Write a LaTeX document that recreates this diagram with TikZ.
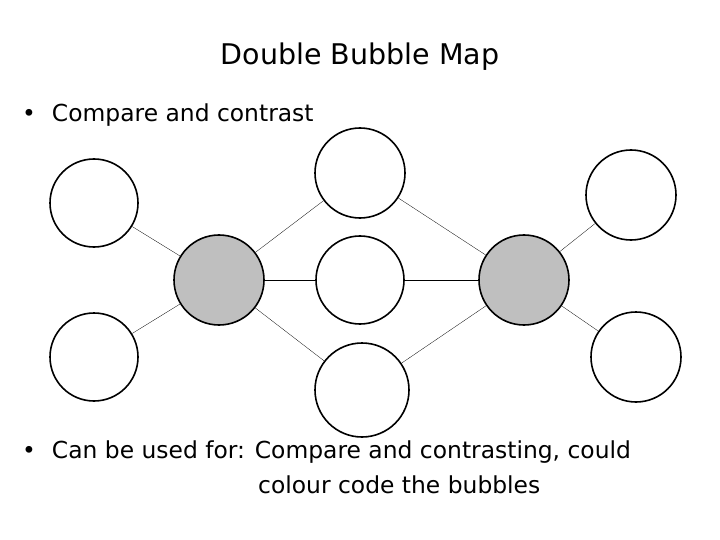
\documentclass[tikz,border=0pt]{standalone}
\usepackage{fontspec}
\setmainfont{DejaVu Sans}
\begin{document}
\begin{tikzpicture}[x=1pt,y=-1pt,
  wb/.style={circle,draw,line width=1.6pt,fill=white,minimum size=88pt,inner sep=0},
  gb/.style={circle,draw,line width=1.6pt,fill=black!25,minimum size=90pt,inner sep=0},
  ln/.style={draw,line width=0.3pt},
  txt/.style={anchor=west,inner sep=0,font=\fontsize{23.4}{28}\selectfont}]
\useasboundingbox (0,0) rectangle (720,540);
\node[font=\fontsize{28.5}{32}\selectfont] (t) at (360,57) {Double Bubble Map};
\node[txt] (b1) at (22,115) {•\hspace{16pt}Compare and contrast};
\node[txt] (b2) at (22,452) {•\hspace{16pt}Can be used for: Compare and contrasting, could};
\node[txt] (b3) at (258,485) {colour code the bubbles};
\node[wb] (l1) at (94,203) {};
\node[wb] (l2) at (94,357) {};
\node[gb] (g1) at (219,280) {};
\node[wb,minimum size=90pt] (m1) at (360,173) {};
\node[wb] (m2) at (360,280) {};
\node[wb,minimum size=94pt] (m3) at (362,390) {};
\node[gb] (g2) at (524,280) {};
\node[wb,minimum size=90pt] (r1) at (631,195) {};
\node[wb,minimum size=90pt] (r2) at (636,357) {};
\foreach \a/\b in {l1/g1,l2/g1,g1/m1,g1/m2,g1/m3,m1/g2,m2/g2,m3/g2,g2/r1,g2/r2}
  \draw[ln] (\a) -- (\b);
\end{tikzpicture}
\end{document}
